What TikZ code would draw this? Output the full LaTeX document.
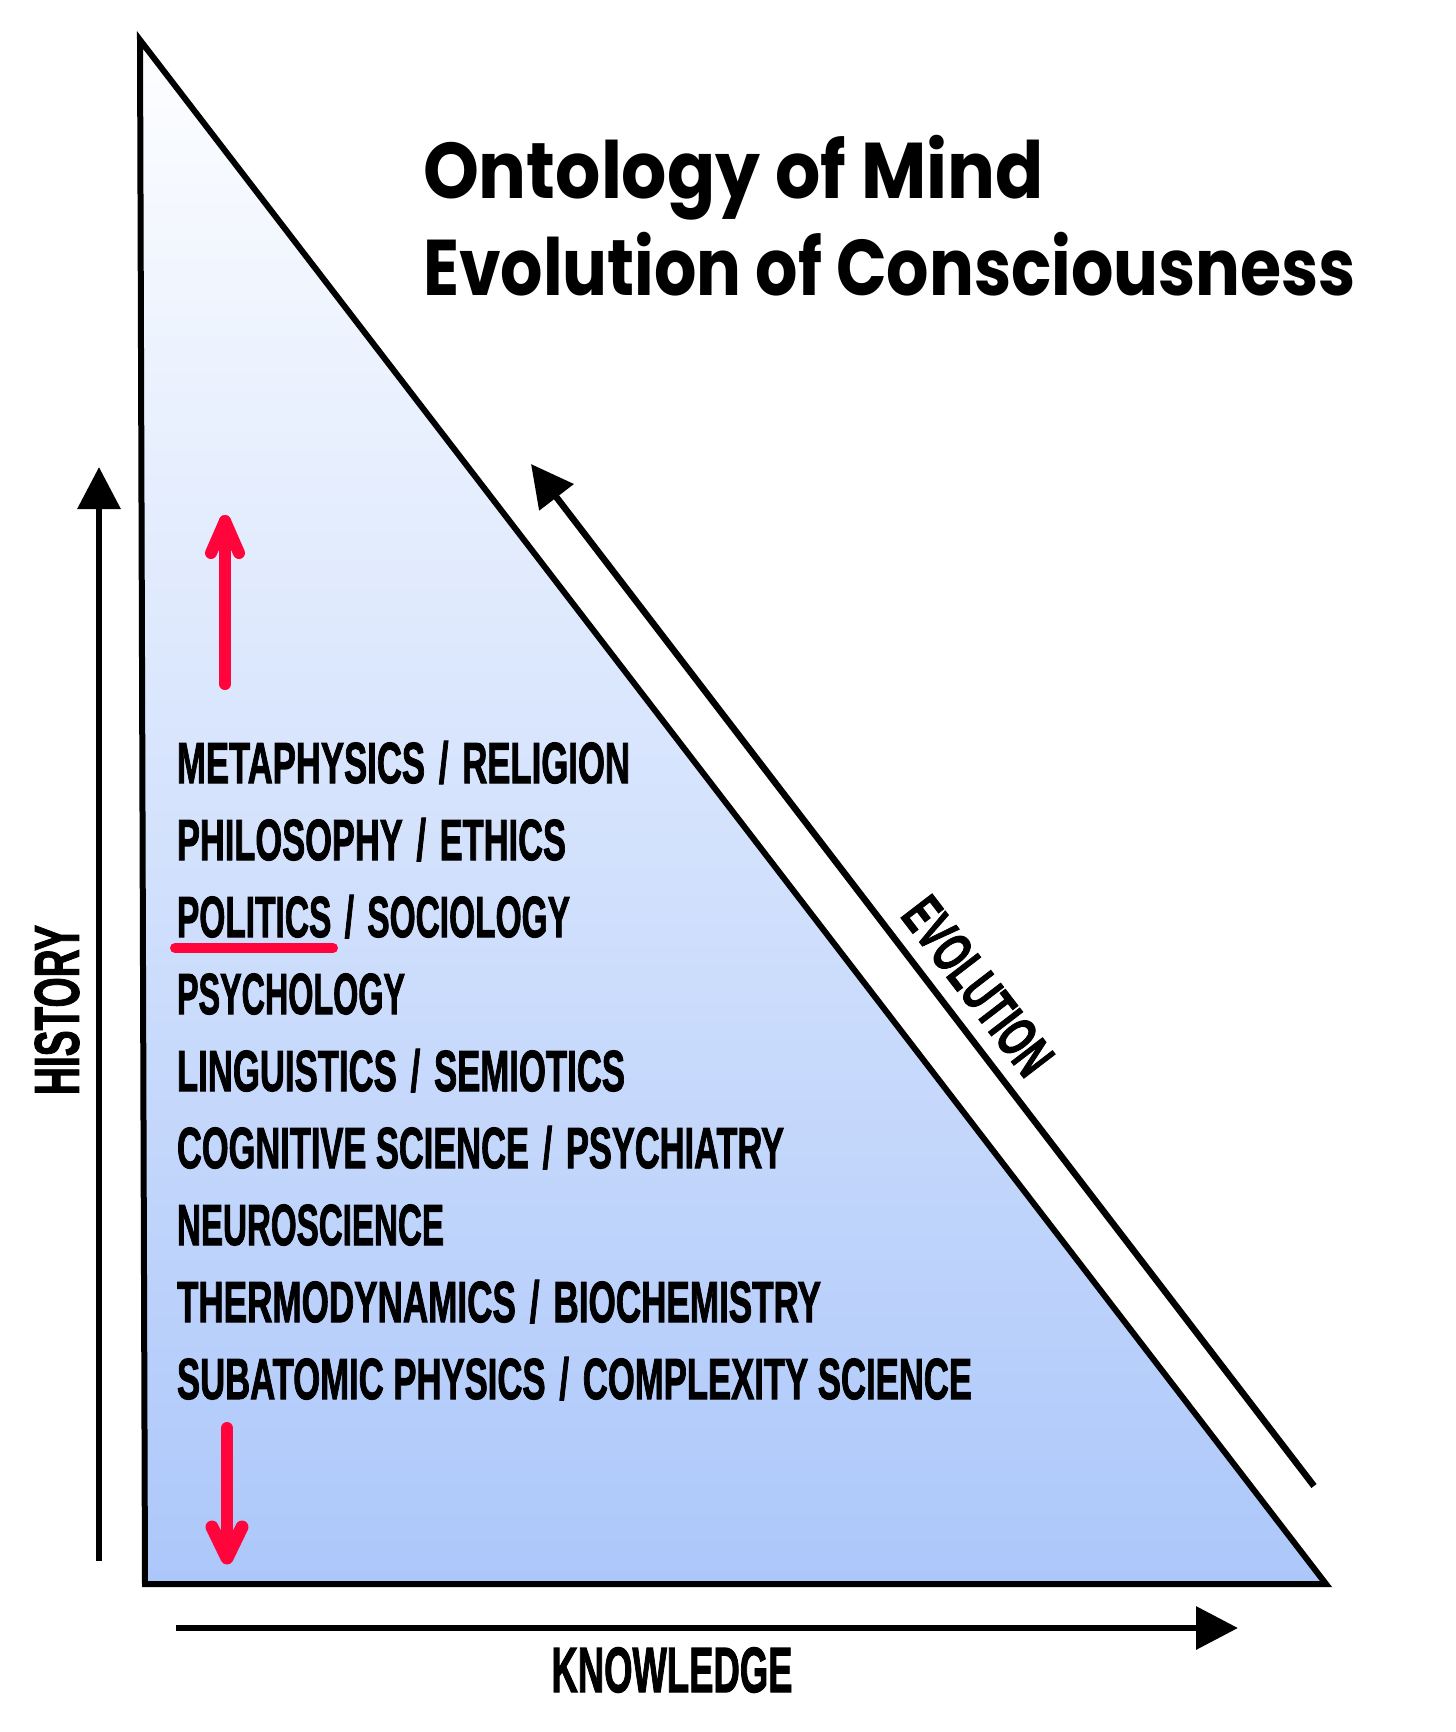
\documentclass[tikz,border=0pt]{standalone}
\usepackage{fontspec}
\usepackage{graphicx}
\usetikzlibrary{arrows.meta}
\newfontfamily\titlefont{Poppins}
\newfontfamily\condfont[BoldFeatures={FakeBold=2}]{Liberation Sans}
\definecolor{redarrow}{RGB}{255,5,60}
\definecolor{topblue}{RGB}{253,254,255}
\definecolor{botblue}{RGB}{172,199,250}
\newcommand\fitw[2]{\resizebox{#1}{\height}{#2}}
\newcommand\slsep{\kern.12em/\kern.12em}
\begin{document}
\begin{tikzpicture}[x=1pt,y=-1pt,
  listtxt/.style={anchor=base west, inner sep=0pt, outer sep=0pt,
    font=\condfont\bfseries\fontsize{58}{58}\selectfont},
  titletxt/.style={anchor=base west, inner sep=0pt, outer sep=0pt,
    font=\titlefont\bfseries\fontsize{79}{79}\selectfont},
  axistxt/.style={inner sep=0pt, outer sep=0pt, font=\condfont\bfseries},
  blkarrow/.style={line width=6.5pt, -{Triangle[length=42pt,width=42pt]}},
  redline/.style={draw=redarrow, line width=12pt, line cap=round, line join=round},
]
\fill[white] (0,0) rectangle (1456,1732);
\useasboundingbox (0,0) rectangle (1456,1732);

% triangle
\coordinate (T) at (140,40);
\coordinate (BL) at (145,1584);
\coordinate (BR) at (1326,1584);
\shade[top color=topblue, bottom color=botblue] (T) -- (BL) -- (BR) -- cycle;
\draw[line width=6pt, line join=miter, miter limit=20] (T) -- (BL) -- (BR) -- cycle;

% title
\node[titletxt] (title1) at (423,198) {\fitw{621pt}{Ontology of Mind}};
\node[titletxt] (title2) at (423,295) {\fitw{933pt}{Evolution of Consciousness}};

% axis arrows
\coordinate (hs) at (99,1561);
\coordinate (ht) at (99,467);
\draw[blkarrow] (hs) -- (ht);
\coordinate (ks) at (176,1628);
\coordinate (kt) at (1238,1628);
\draw[blkarrow] (ks) -- (kt);
\coordinate (es) at (1314,1486);
\coordinate (et) at (531,464);
\draw[blkarrow] (es) -- (et);

\node[axistxt, rotate=90, font=\condfont\bfseries\fontsize{63}{63}\selectfont] (hist) at (57,1010) {\fitw{170pt}{HISTORY}};
\node[axistxt, font=\condfont\bfseries\fontsize{64}{64}\selectfont] (know) at (672,1670) {\fitw{241pt}{KNOWLEDGE}};
\node[axistxt, rotate=-52.5, font=\condfont\bfseries\fontsize{57}{57}\selectfont] (evo) at (978,986) {\fitw{207pt}{EVOLUTION}};

% list
\node[listtxt] (l1) at (177,783) {\fitw{453pt}{METAPHYSICS \slsep{} RELIGION}};
\node[listtxt] (l2) at (177,860) {\fitw{389pt}{PHILOSOPHY \slsep{} ETHICS}};
\node[listtxt] (l3) at (177,937) {\fitw{393pt}{POLITICS \slsep{} SOCIOLOGY}};
\node[listtxt] (l4) at (177,1014) {\fitw{228pt}{PSYCHOLOGY}};
\node[listtxt] (l5) at (177,1091) {\fitw{448pt}{LINGUISTICS \slsep{} SEMIOTICS}};
\node[listtxt] (l6) at (177,1168) {\fitw{607pt}{COGNITIVE SCIENCE \slsep{} PSYCHIATRY}};
\node[listtxt] (l7) at (177,1245) {\fitw{267pt}{NEUROSCIENCE}};
\node[listtxt] (l8) at (177,1322) {\fitw{644pt}{THERMODYNAMICS \slsep{} BIOCHEMISTRY}};
\node[listtxt] (l9) at (177,1399) {\fitw{795pt}{SUBATOMIC PHYSICS \slsep{} COMPLEXITY SCIENCE}};

% red underline
\coordinate (u1) at (175,948);
\coordinate (u2) at (333,948);
\draw[redline, line width=10pt] (u1) -- (u2);

% red up arrow
\coordinate (ua0) at (225,684);
\coordinate (ua1) at (225,521);
\coordinate (uaL) at (211,553);
\coordinate (uaR) at (239,553);
\draw[redline] (ua0) -- (ua1);
\draw[redline] (uaL) -- (ua1) -- (uaR);

% red down arrow
\coordinate (da0) at (227,1428);
\coordinate (da1) at (227,1558);
\coordinate (daL) at (212,1527);
\coordinate (daR) at (242,1527);
\draw[redline] (da0) -- (da1);
\draw[redline, line width=13pt] (daL) -- (da1) -- (daR);
\end{tikzpicture}
\end{document}
